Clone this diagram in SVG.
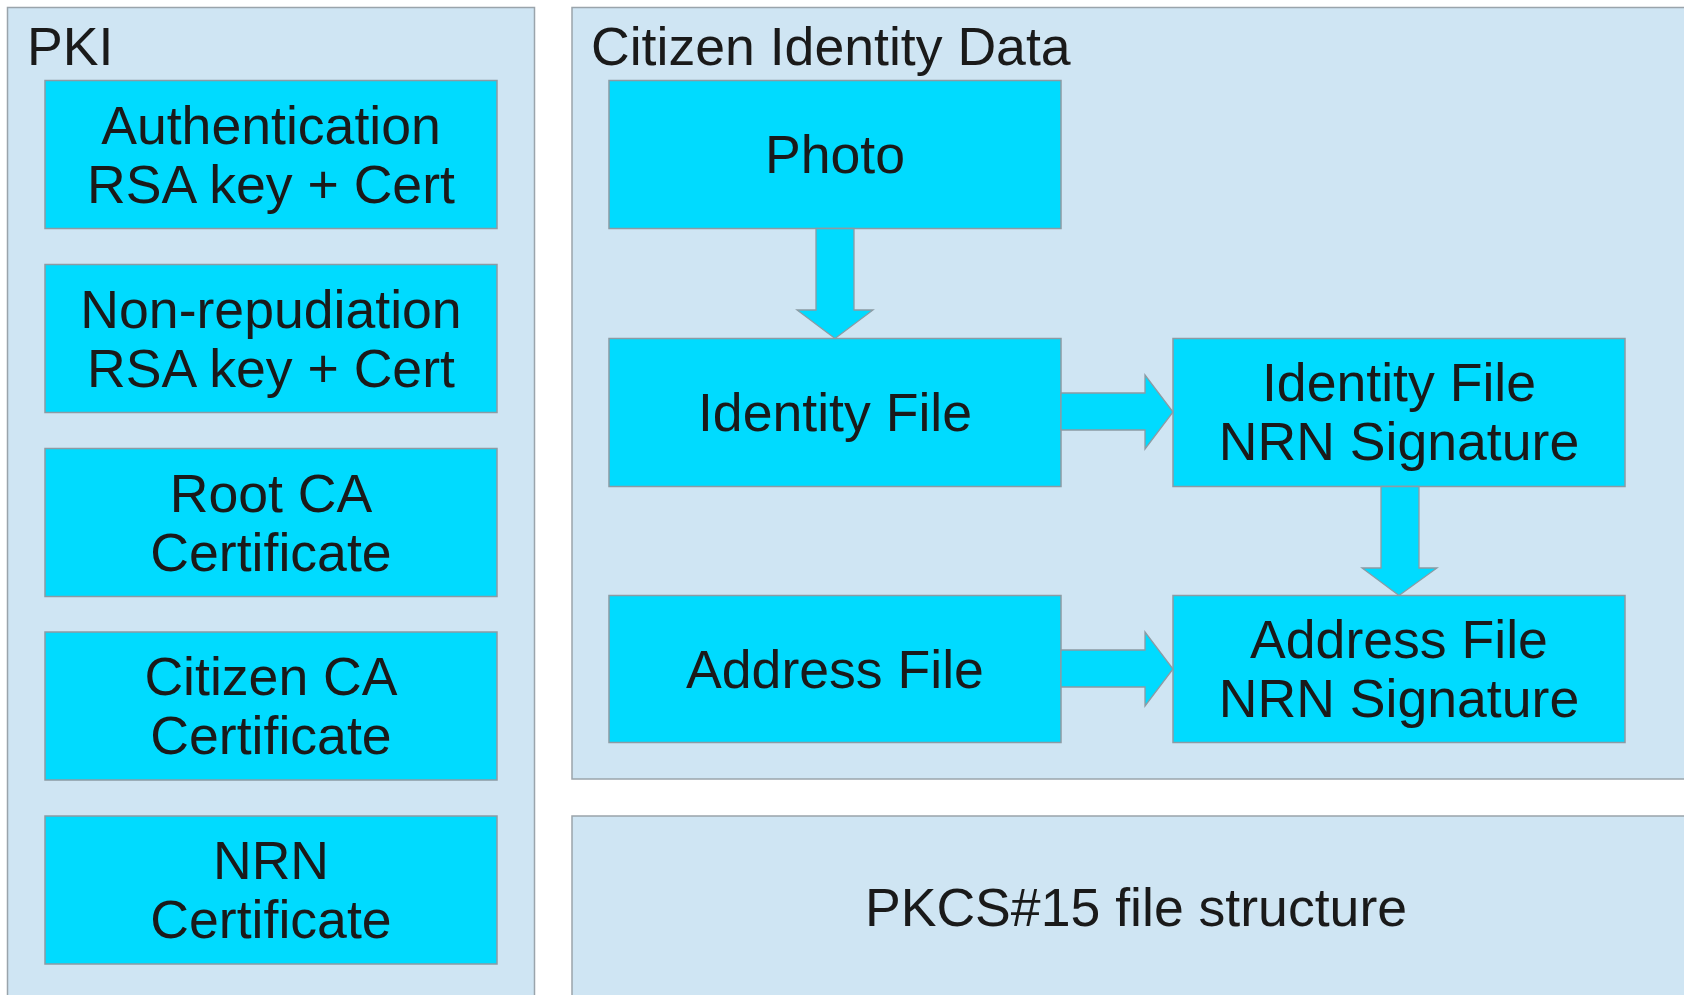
<svg xmlns="http://www.w3.org/2000/svg" width="1684" height="995" viewBox="0 0 1684 995">
<style>
.panel{fill:#cfe5f3;stroke:#9aa4ab;stroke-width:1.5}
.box{fill:#00dbff;stroke:#8c9ba4;stroke-width:1.5}
.arr{fill:#00dbff;stroke:#8c9ba4;stroke-width:1.3;stroke-linejoin:miter}
text{font-family:"Liberation Sans",Arial,sans-serif;font-size:53.6px;fill:#1a1a1a}
.c{text-anchor:middle}
</style>
<rect width="1684" height="995" fill="#ffffff"/>
<g id="panel-pki"><rect class="panel" x="7.5" y="7.5" width="527" height="1000"/><text x="27" y="65">PKI</text></g>
<g id="panel-cid"><rect class="panel" x="572" y="7.5" width="1130" height="771.5"/><text x="591" y="65">Citizen Identity Data</text></g>
<g id="panel-pkcs"><rect class="panel" x="572" y="816" width="1130" height="200"/><text class="c" x="1136" y="926">PKCS#15 file structure</text></g>
<g id="auth"><rect class="box" x="45" y="80.5" width="452" height="148"/><text class="c" x="271" y="143.5">Authentication</text><text class="c" x="271" y="202.5">RSA key + Cert</text></g>
<g id="nonrep"><rect class="box" x="45" y="264.5" width="452" height="148"/><text class="c" x="271" y="327.5">Non-repudiation</text><text class="c" x="271" y="386.5">RSA key + Cert</text></g>
<g id="rootca"><rect class="box" x="45" y="448.5" width="452" height="148"/><text class="c" x="271" y="511.5">Root CA</text><text class="c" x="271" y="570.5">Certificate</text></g>
<g id="citizenca"><rect class="box" x="45" y="632" width="452" height="148"/><text class="c" x="271" y="695">Citizen CA</text><text class="c" x="271" y="754">Certificate</text></g>
<g id="nrncert"><rect class="box" x="45" y="816" width="452" height="148"/><text class="c" x="271" y="879">NRN</text><text class="c" x="271" y="938">Certificate</text></g>
<g id="photo"><rect class="box" x="609" y="80.5" width="452" height="148"/><text class="c" x="835" y="172.7">Photo</text></g>
<g id="identity"><rect class="box" x="609" y="338.5" width="452" height="148"/><text class="c" x="835" y="430.7">Identity File</text></g>
<g id="address"><rect class="box" x="609" y="595.5" width="452" height="147"/><text class="c" x="835" y="687.7">Address File</text></g>
<g id="idsig"><rect class="box" x="1173" y="338.5" width="452" height="148"/><text class="c" x="1399" y="401">Identity File</text><text class="c" x="1399" y="460">NRN Signature</text></g>
<g id="addrsig"><rect class="box" x="1173" y="595.5" width="452" height="147"/><text class="c" x="1399" y="658">Address File</text><text class="c" x="1399" y="717">NRN Signature</text></g>
<g id="connectors">
<polygon class="arr" points="816,228.5 854,228.5 854,310 873,310 835,338.5 797,310 816,310"/>
<polygon class="arr" points="1061,393 1145,393 1145,375 1173,412 1145,449 1145,430 1061,430"/>
<polygon class="arr" points="1061,650 1145,650 1145,632 1173,669 1145,706 1145,687 1061,687"/>
<polygon class="arr" points="1381,486.5 1419,486.5 1419,568 1437,568 1399,595.5 1362,568 1381,568"/>
</g>
</svg>
